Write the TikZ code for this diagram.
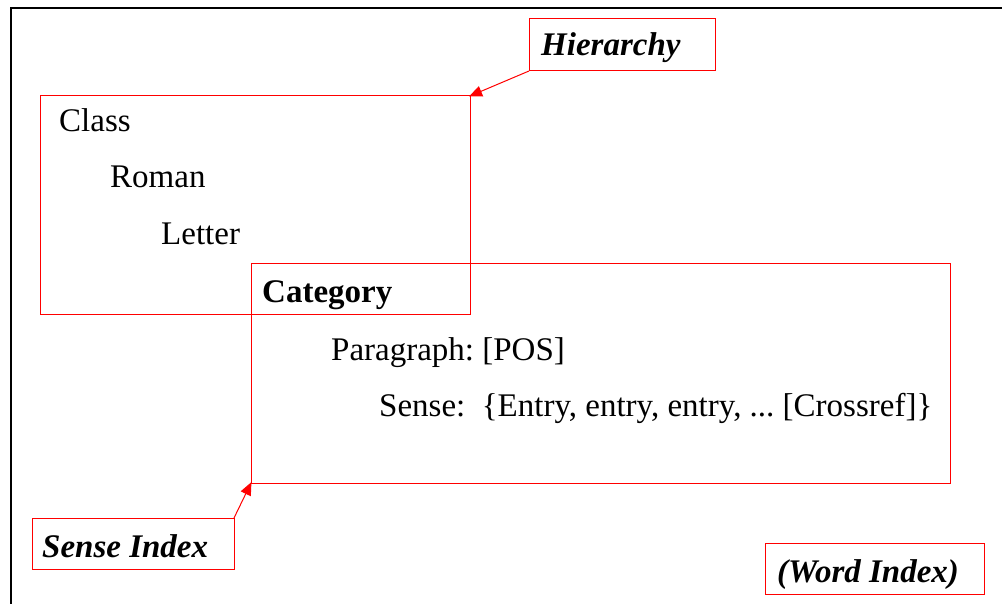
\documentclass[tikz,border=0pt]{standalone}
\usepackage{fontspec}
\setmainfont{Liberation Serif}
\usetikzlibrary{arrows.meta}
\frenchspacing
\tikzset{
  redbox/.style={draw=red, line width=1pt, inner sep=0pt, outer sep=0pt, anchor=north west},
  body/.style={anchor=base west, inner sep=0pt, font=\fontsize{33}{40}\selectfont},
  tag/.style={anchor=base west, inner sep=0pt, font=\fontsize{33}{40}\selectfont\bfseries\itshape},
  pointer/.style={draw=red, line width=1pt, -{Triangle[length=13pt,width=11pt]}, shorten >=-1pt}
}
\begin{document}
\begin{tikzpicture}[x=1pt, y=-1pt]
\useasboundingbox (0,0) rectangle (1002,604);
\clip (0,0) rectangle (1002,604);
% page frame
\draw[line width=2pt] (11,640) -- (11,8) -- (1040,8);

% boxes
\node[redbox, minimum width=430pt, minimum height=219pt] (classbox) at (40,96) {};
\node[redbox, minimum width=699pt, minimum height=219pt] (catbox) at (251,264) {};
\node[redbox, minimum width=186pt, minimum height=52pt] (hierbox) at (529,19) {};
\node[redbox, minimum width=202pt, minimum height=51pt] (sensebox) at (32,518) {};
\node[redbox, minimum width=219pt, minimum height=51pt] (wordbox) at (765,543) {};

% hierarchy text
\node[body] (cls) at (59,132) {Class};
\node[body] (rom) at (110,188) {Roman};
\node[body] (let) at (161,245) {Letter};
\node[body, font=\fontsize{33}{40}\selectfont\bfseries] (cat) at (262,302) {Category};
\node[body] (par) at (331,360) {Paragraph: [POS]};
\node[body] (sen) at (379,416) {Sense:\ \ \{Entry, entry, entry, ... [Crossref]\}};

% labels
\node[tag] (hier) at (541,56) {Hierarchy};
\node[tag] (sidx) at (42,557) {Sense Index};
\node[tag] (widx) at (777,582) {(Word Index)};

% pointers
\draw[pointer] (hierbox.south west) -- (classbox.north east);
\draw[pointer] (sensebox.north east) -- (catbox.south west);
\end{tikzpicture}
\end{document}
